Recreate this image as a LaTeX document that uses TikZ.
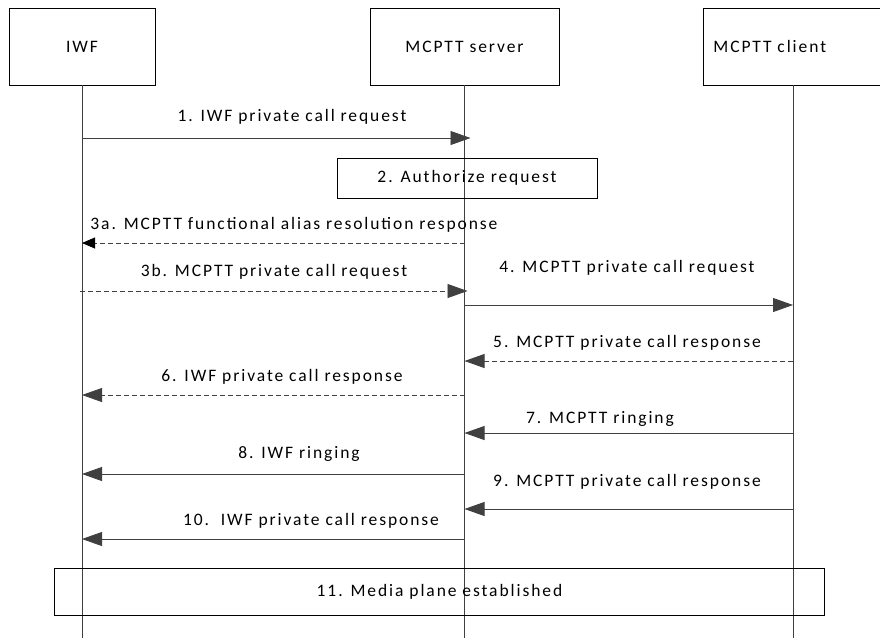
\documentclass[tikz,border=0pt]{standalone}
\usepackage{fontspec}
\setmainfont{Carlito}[LetterSpace=11]
\usetikzlibrary{arrows.meta}
\definecolor{linegray}{HTML}{404040}

\begin{document}
\begin{tikzpicture}[x=1pt, y=-1pt, line width=0.8pt,
  every node/.style={font=\fontsize{17.5}{21}\selectfont},
  entity/.style={draw, minimum height=77pt, inner sep=0pt},
  life/.style={draw=linegray},
  msg/.style={draw=linegray, -{Triangle[length=20pt, width=14pt]}},
  dmsg/.style={msg, dash pattern=on 5pt off 3pt},
  note/.style={draw, inner sep=0pt}]
\useasboundingbox (0,0) rectangle (880,638);

% participants
\node[entity, minimum width=146pt] (iwf) at (82,46.5) {IWF};
\node[entity, minimum width=189pt] (srv) at (464.5,46.5) {MCPTT server};
\node[entity, anchor=west, inner xsep=10pt, text width=167pt, align=left] (cli) at (703,46.5) {MCPTT client};

\coordinate (iwfend) at (82,638);
\coordinate (srvend) at (464.5,638);
\coordinate (cliend) at (793,638);

% lifelines
\draw[life] (iwf.south) -- (iwfend);
\draw[life] (srv.south) -- (srvend);
\draw[life] (cli.south -| cliend) -- (cliend);

% 1
\draw[msg, shorten >=-6pt] (iwfend |- 0,138) -- (srvend |- 0,138);
\node (m1) at (292,117) {1. IWF private call request};

% 2
\node[note, minimum width=260pt, minimum height=40pt] (m2) at (467,178) {2. Authorize request};

% 3a and 3b
\draw[draw=linegray, dash pattern=on 5pt off 3pt, -{Triangle[length=13pt, width=11pt, color=black]}] (srvend |- 0,243) -- (iwfend |- 0,243);
\node (m3a) at (294,225) {3a. MCPTT functional alias resolution response};
\draw[dmsg, shorten >=-3pt] (80,291) -- (srvend |- 0,291);
\node (m3b) at (274,272) {3b. MCPTT private call request};

% 4 - 7
\draw[msg] (srvend |- 0,305) -- (cliend |- 0,305);
\node (m4) at (627,268) {4. MCPTT private call request};
\draw[dmsg] (cliend |- 0,361) -- (srvend |- 0,361);
\node (m5) at (627,343) {5. MCPTT private call response};
\draw[dmsg] (srvend |- 0,395) -- (iwfend |- 0,395);
\node (m6) at (282,377) {6. IWF private call response};
\draw[msg] (cliend |- 0,433) -- (srvend |- 0,433);
\node (m7) at (600,419) {7. MCPTT ringing};

% 8 - 10
\draw[msg] (srvend |- 0,474) -- (iwfend |- 0,474);
\node (m8) at (299,454) {8. IWF ringing};
\draw[msg] (cliend |- 0,509) -- (srvend |- 0,509);
\node (m9) at (627,482) {9. MCPTT private call response};
\draw[msg] (srvend |- 0,539) -- (iwfend |- 0,539);
\node (m10) at (311,521) {10.\ \ IWF private call response};

% 11
\node[note, minimum width=770pt, minimum height=47pt] (m11) at (439.5,591.5) {11. Media plane established};
\end{tikzpicture}
\end{document}
